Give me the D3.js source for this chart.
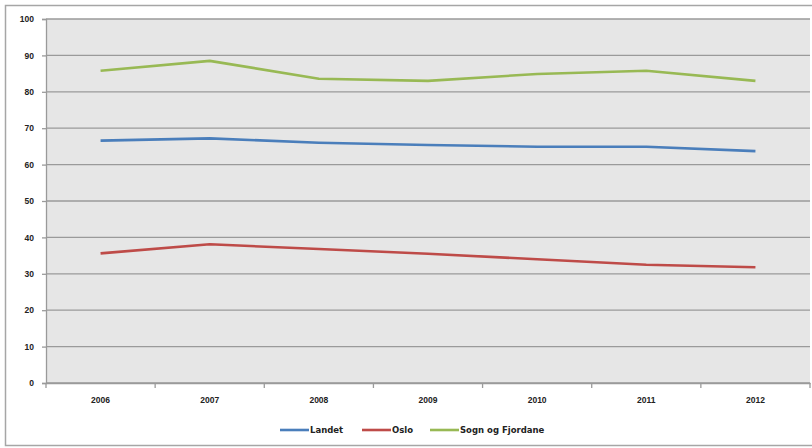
<!DOCTYPE html>
<html><head><meta charset="utf-8">
<script src="https://cdn.jsdelivr.net/npm/d3@7"></script>
<style>body{margin:0;background:#fff;}svg{display:block;font-family:"DejaVu Sans",Verdana,sans-serif;}</style>
</head><body>
<svg id="c" width="812" height="448"></svg>
<script>
const years = ["2006","2007","2008","2009","2010","2011","2012"];
const landet = [66.6, 67.2, 66.0, 65.4, 64.9, 64.9, 63.7];
const oslo = [35.6, 38.1, 36.8, 35.5, 34.0, 32.5, 31.8];
const sogn = [85.8, 88.5, 83.6, 83.0, 84.9, 85.8, 83.0];
const seriesNames = ["Landet", "Oslo", "Sogn og Fjordane"];
const yTicks = [0,10,20,30,40,50,60,70,80,90,100];

const colors = ["#4a7ebb", "#be4b48", "#98b954"];
const series = [landet, oslo, sogn];

const svg = d3.select("#c");
svg.append("rect").attr("x",5.5).attr("y",5.5).attr("width",812).attr("height",440)
  .attr("fill","#fff").attr("stroke","#a6a6a6").attr("stroke-width",1.5);

const L=46, R=810, T=19, B=383;
const x = d3.scaleBand().domain(years).range([L,R]);
const y = d3.scaleLinear().domain([0,100]).range([B,T]);

svg.append("rect").attr("x",L).attr("y",T).attr("width",R-L).attr("height",B-T).attr("fill","#e6e6e6");

svg.append("g").selectAll("line").data(yTicks).join("line")
  .attr("x1",L).attr("x2",R).attr("y1",d=>y(d)).attr("y2",d=>y(d))
  .attr("stroke","#9a9a9a").attr("stroke-width",1.3);

const yAxis = svg.append("g").attr("transform",`translate(${L},0)`)
  .call(d3.axisLeft(y).tickValues(yTicks).tickSize(4).tickPadding(8));
yAxis.select(".domain").attr("stroke","#9a9a9a").attr("stroke-width",1.3);
yAxis.selectAll(".tick line").attr("stroke","#9a9a9a").attr("stroke-width",1.3);
yAxis.selectAll("text").attr("font-size",8.5).attr("font-weight","bold").attr("fill","#222");

const xAxis = svg.append("g").attr("transform",`translate(0,${B})`)
  .call(d3.axisBottom(x).tickSize(0).tickPadding(14));
xAxis.select(".domain").attr("stroke","#9a9a9a").attr("stroke-width",1.3);
xAxis.selectAll("text").attr("font-size",8.5).attr("font-weight","bold").attr("fill","#222");
const bounds = years.map(d=>x(d)).concat([x(years[years.length-1])+x.bandwidth()]);
xAxis.append("g").selectAll("line").data(bounds).join("line")
  .attr("x1",d=>d).attr("x2",d=>d).attr("y1",0).attr("y2",5)
  .attr("stroke","#9a9a9a").attr("stroke-width",1.3);

const line = d3.line().x((d,i)=>x(years[i])+x.bandwidth()/2).y(d=>y(d));
series.forEach((s,k)=>{
  svg.append("path").datum(s).attr("d",line).attr("fill","none")
    .attr("stroke",colors[k]).attr("stroke-width",2.6).attr("stroke-linejoin","round");
});

const legX = [280, 362, 430];
const lg = svg.append("g");
seriesNames.forEach((n,k)=>{
  lg.append("line").attr("x1",legX[k]).attr("x2",legX[k]+29).attr("y1",430).attr("y2",430)
    .attr("stroke",colors[k]).attr("stroke-width",2.6);
  lg.append("text").attr("x",legX[k]+30).attr("y",433).attr("font-size",8.5)
    .attr("font-weight","bold").attr("fill","#222").text(n);
});
</script>
</body></html>
